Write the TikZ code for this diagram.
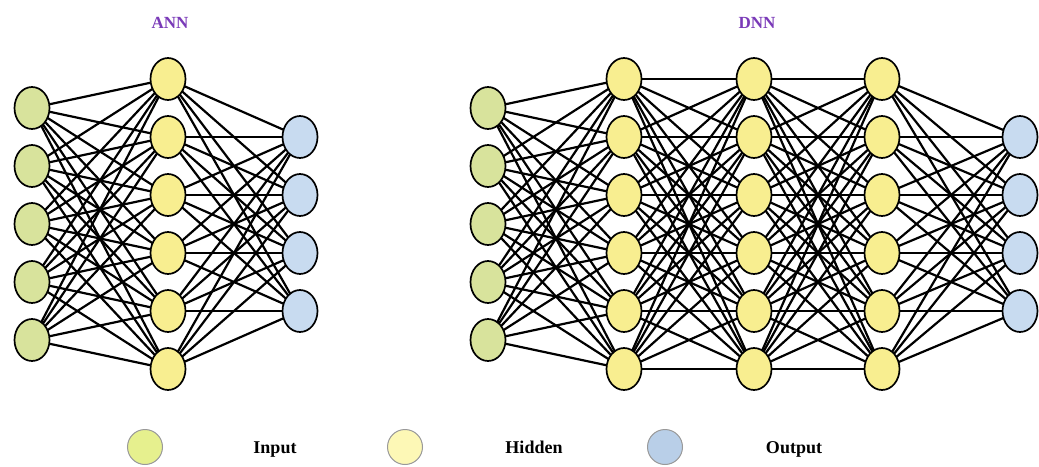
\documentclass[tikz,border=0pt]{standalone}
\usepackage{fontspec}
\setmainfont{Liberation Serif}
\usetikzlibrary{shapes.geometric}
\definecolor{inC}{HTML}{D8E39C}
\definecolor{hidC}{HTML}{F8EE90}
\definecolor{outC}{HTML}{C8DBF0}
\definecolor{legIn}{HTML}{E6F08E}
\definecolor{legHid}{HTML}{FDF8B6}
\definecolor{legOut}{HTML}{B9CFE8}
\definecolor{titleC}{HTML}{7A3AB8}
\tikzset{
  neuron/.style={ellipse, draw=black, line width=1.7pt, minimum width=35pt, minimum height=42pt, inner sep=0pt},
  innode/.style={neuron, fill=inC},
  hidnode/.style={neuron, fill=hidC},
  outnode/.style={neuron, fill=outC},
  legnode/.style={circle, draw=gray!80, line width=1pt, minimum size=35pt, inner sep=0pt},
  link/.style={line width=2.2pt, black},
  title/.style={font=\bfseries\fontsize{17}{19}\selectfont, text=titleC},
  legtext/.style={font=\bfseries\fontsize{18}{20}\selectfont, anchor=base, inner sep=0pt}
}
\begin{document}
\begin{tikzpicture}[x=1pt,y=-1pt]
\useasboundingbox (0,0) rectangle (1039,466);
% ANN positions
\foreach \i in {1,...,5} \coordinate (ai\i) at (32,{108+58*(\i-1)});
\foreach \j in {1,...,6} \coordinate (ah\j) at (168,{79+58*(\j-1)});
\foreach \k in {1,...,4} \coordinate (ao\k) at (300,{137+58*(\k-1)});
% DNN positions
\foreach \i in {1,...,5} \coordinate (di\i) at (488,{108+58*(\i-1)});
\foreach \j in {1,...,6} \coordinate (da\j) at (624,{79+58*(\j-1)});
\foreach \j in {1,...,6} \coordinate (db\j) at (754,{79+58*(\j-1)});
\foreach \j in {1,...,6} \coordinate (dc\j) at (882,{79+58*(\j-1)});
\foreach \k in {1,...,4} \coordinate (do\k) at (1020,{137+58*(\k-1)});
% links
\foreach \i in {1,...,5} \foreach \j in {1,...,6} \draw[link] (ai\i) -- (ah\j);
\foreach \j in {1,...,6} \foreach \k in {1,...,4} \draw[link] (ah\j) -- (ao\k);
\foreach \i in {1,...,5} \foreach \j in {1,...,6} \draw[link] (di\i) -- (da\j);
\foreach \i in {1,...,6} \foreach \j in {1,...,6} \draw[link] (da\i) -- (db\j);
\foreach \i in {1,...,6} \foreach \j in {1,...,6} \draw[link] (db\i) -- (dc\j);
\foreach \j in {1,...,6} \foreach \k in {1,...,4} \draw[link] (dc\j) -- (do\k);
% nodes
\foreach \i in {1,...,5} \node[innode] (nai\i) at (ai\i) {};
\foreach \j in {1,...,6} \node[hidnode] (nah\j) at (ah\j) {};
\foreach \k in {1,...,4} \node[outnode] (nao\k) at (ao\k) {};
\foreach \i in {1,...,5} \node[innode] (ndi\i) at (di\i) {};
\foreach \j in {1,...,6} \node[hidnode] (nda\j) at (da\j) {};
\foreach \j in {1,...,6} \node[hidnode] (ndb\j) at (db\j) {};
\foreach \j in {1,...,6} \node[hidnode] (ndc\j) at (dc\j) {};
\foreach \k in {1,...,4} \node[outnode] (ndo\k) at (do\k) {};
% titles
\node[title] (tann) at (170,23) {ANN};
\node[title] (tdnn) at (757,23) {DNN};
% legend
\node[legnode, fill=legIn] (lin) at (145,447) {};
\node[legtext] (tin) at (275,453) {Input};
\node[legnode, fill=legHid] (lhid) at (405,447) {};
\node[legtext] (thid) at (534,453) {Hidden};
\node[legnode, fill=legOut] (lout) at (665,447) {};
\node[legtext] (tout) at (794,453) {Output};
\end{tikzpicture}
\end{document}
